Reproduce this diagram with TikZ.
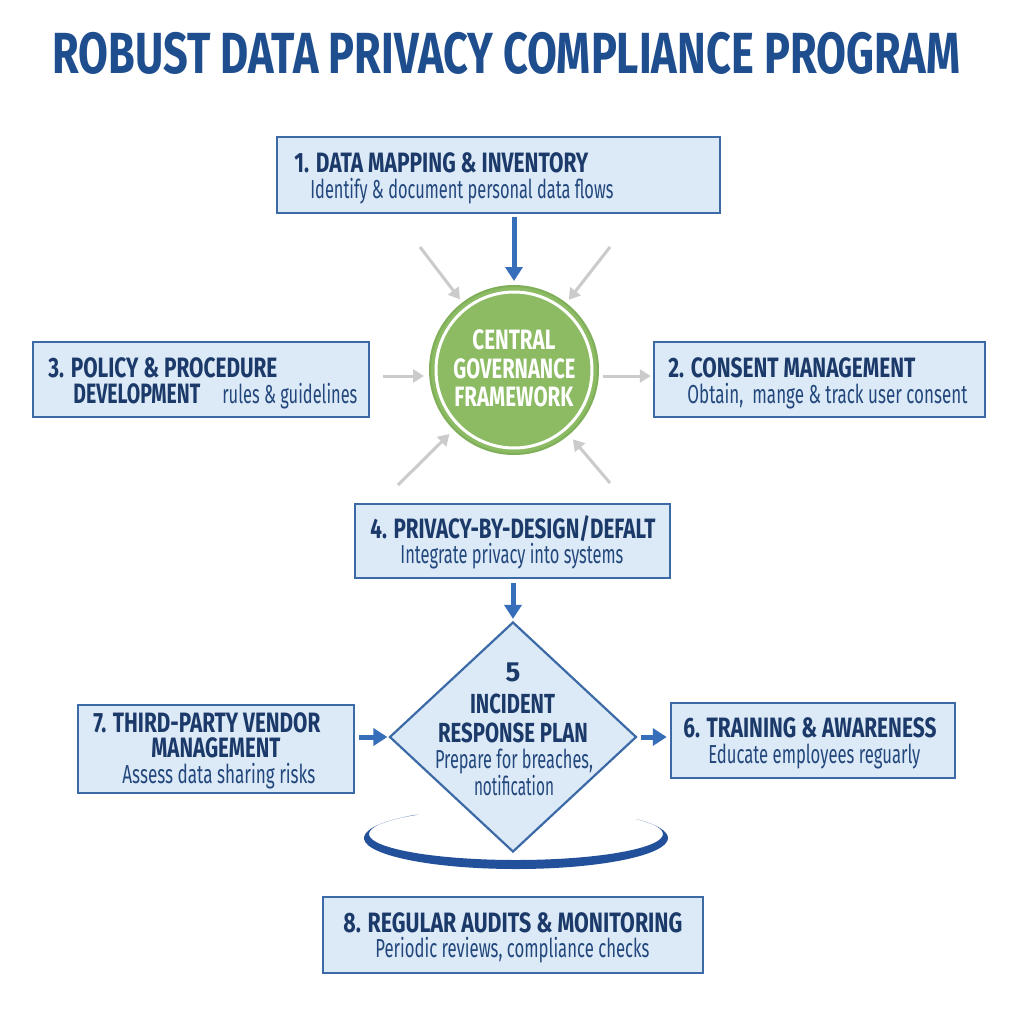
\documentclass[tikz,border=0pt]{standalone}
\usepackage{fontspec}
\setmainfont{Fira Sans}
\usepackage{graphicx}
\usetikzlibrary{arrows.meta,shapes.geometric,calc}

\definecolor{titleblue}{HTML}{1F4E8F}
\definecolor{navy}{HTML}{1B3A69}
\definecolor{subblue}{HTML}{22477C}
\definecolor{boxfill}{HTML}{DCE9F7}
\definecolor{boxline}{HTML}{3C6AA6}
\definecolor{arrowblue}{HTML}{376EB9}
\definecolor{lightgrayarrow}{HTML}{CBCBCB}
\definecolor{circgreen}{HTML}{8CBB64}
\definecolor{circedge}{HTML}{7FAF58}
\definecolor{ringblue}{HTML}{23509B}

\newlength\fitlen
\newcommand\fitw[2]{\settowidth\fitlen{#2}\pgfmathsetmacro\fitr{#1*0.5/\fitlen}\scalebox{\fitr}[1]{#2}}

\tikzset{
  box/.style={draw=boxline, line width=1.25pt, fill=boxfill, inner sep=0pt},
  ttl/.style={anchor=base west, inner sep=0pt, text=navy, font=\bfseries\fontsize{14}{16}\selectfont},
  subtxt/.style={anchor=base west, inner sep=0pt, text=subblue, font=\fontsize{13}{15}\selectfont},
  dttl/.style={anchor=base, inner sep=0pt, text=navy, font=\bfseries\fontsize{13.8}{16}\selectfont},
  dsub/.style={anchor=base, inner sep=0pt, text=subblue, font=\fontsize{13}{15}\selectfont},
  ctxt/.style={anchor=base west, inner sep=0pt, text=white, font=\bfseries\fontsize{14}{16}\selectfont},
  bluearrow/.style={draw=arrowblue, line width=2.5pt, -{Triangle[length=7pt,width=8.5pt]}},
  grayarr/.style={draw=lightgrayarrow, line width=1.5pt, -{Triangle[length=5.5pt,width=6.5pt]}},
}

\begin{document}
\begin{tikzpicture}[x=0.5pt,y=-0.5pt]
\useasboundingbox (0,0) rectangle (1024,1024);
\fill[white] (0,0) rectangle (1024,1024);

% title
\node[anchor=base west, inner sep=0pt, text=titleblue, font=\bfseries\fontsize{29}{32}\selectfont] (title) at (52,73) {\fitw{908}{ROBUST DATA PRIVACY COMPLIANCE PROGRAM}};

% boxes
\node[box, minimum width=221.5pt, minimum height=38pt] (box1) at (498.5,175) {};
\node[box, minimum width=168pt, minimum height=37.5pt] (box3) at (201,379.5) {};
\node[box, minimum width=165.5pt, minimum height=37.5pt] (box2) at (819.5,379.5) {};
\node[box, minimum width=157.5pt, minimum height=37pt] (box4) at (512.5,541) {};
\node[box, minimum width=138pt, minimum height=44pt] (box7) at (216,749) {};
\node[box, minimum width=142pt, minimum height=37.5pt] (box6) at (813,740.5) {};
\node[box, minimum width=190pt, minimum height=38pt] (box8) at (513,935) {};

% box texts
\node[ttl] (t1) at (294,172) {\fitw{294}{1. DATA MAPPING \& INVENTORY}};
\node[subtxt] (s1) at (310,198) {\fitw{303}{Identify \& document personal data flows}};

\node[ttl] (t3a) at (48,377) {\fitw{229}{3. POLICY \& PROCEDURE}};
\node[ttl] (t3b) at (73,403) {\fitw{127}{DEVELOPMENT}};
\node[subtxt] (s3) at (222,403) {\fitw{135}{rules \& guidelines}};

\node[ttl] (t2) at (668,377) {\fitw{247}{2. CONSENT MANAGEMENT}};
\node[subtxt] (s2) at (687,403) {\fitw{280}{Obtain,~ mange \& track user consent}};

\node[ttl] (t4) at (370,538) {\fitw{285}{4. PRIVACY-BY-DESIGN/DEFALT}};
\node[subtxt] (s4) at (400,563) {\fitw{223}{Integrate privacy into systems}};

\node[ttl] (t7a) at (93,732) {\fitw{227}{7. THIRD-PARTY VENDOR}};
\node[ttl] (t7b) at (151,757) {\fitw{129}{MANAGEMENT}};
\node[subtxt] (s7) at (122,783) {\fitw{193}{Assess data sharing risks}};

\node[ttl] (t6) at (683,737) {\fitw{253}{6. TRAINING \& AWARENESS}};
\node[subtxt] (s6) at (708,763) {\fitw{212}{Educate employees reguarly}};

\node[ttl] (t8) at (343,932) {\fitw{339}{8. REGULAR AUDITS \& MONITORING}};
\node[subtxt] (s8) at (375,957) {\fitw{274}{Periodic reviews, compliance checks}};

% central circle
\node[circle, fill=circgreen, draw=circedge, line width=1pt, minimum size=84pt, inner sep=0pt] (circ) at (514,370) {};
\draw[white, line width=1.5pt] (circ.center) circle[radius=78];
\node[ctxt] (c1) at (472,349) {\fitw{83}{CENTRAL}};
\node[ctxt] (c2) at (453,378) {\fitw{122}{GOVERNANCE}};
\node[ctxt] (c3) at (454,406) {\fitw{119}{FRAMEWORK}};

% crescent ring under the diamond
\fill[ringblue] ($(516,838)+(228:152 and 31)$) arc[start angle=228, end angle=-35, x radius=152, y radius=31]
  -- ($(516,834)+(-35:147 and 26)$) arc[start angle=-35, end angle=228, x radius=147, y radius=26] -- cycle;

% diamond
\node[diamond, draw=boxline, line width=1.1pt, fill=boxfill, minimum width=123.5pt, minimum height=115pt, inner sep=0pt] (dia) at (513,737) {};
\node[dttl] (d5) at (513,681) {5};
\node[dttl] (d1) at (512.5,713) {\fitw{85}{INCIDENT}};
\node[dttl] (d2) at (513,742) {\fitw{150}{RESPONSE PLAN}};
\node[dsub] (d3) at (514,768) {\fitw{158}{Prepare for breaches,}};
\node[dsub] (d4) at (514,795) {\fitw{80}{notification}};

% blue arrows
\draw[bluearrow, shorten <=1.5pt, shorten >=2pt] (circ.north |- box1.south) -- (circ.north);
\draw[bluearrow, shorten <=2pt, shorten >=1pt] (dia.north |- box4.south) -- (dia.north);
\draw[bluearrow, shorten <=2pt, shorten >=0.5pt] (box7.east |- dia.west) -- (dia.west);
\draw[bluearrow, shorten <=1.5pt, shorten >=1.5pt] (dia.east) -- (box6.west |- dia.east);

% gray arrows
\coordinate (ul) at (420,247);
\coordinate (ur) at (610,247);
\coordinate (ll) at (398,485);
\coordinate (lr) at (610,483);
\draw[grayarr, shorten >=2pt] (ul) -- (circ);
\draw[grayarr, shorten >=2pt] (ur) -- (circ);
\draw[grayarr, shorten >=3pt] (ll) -- (circ);
\draw[grayarr, shorten >=3pt] (lr) -- (circ);
\draw[grayarr, shorten <=6.5pt, shorten >=2.5pt] (box3.east |- 0,376) -- (circ.west |- 0,376);
\draw[grayarr, shorten <=2pt, shorten >=1pt] (circ.east |- 0,376) -- (box2.west |- 0,376);
\end{tikzpicture}
\end{document}
